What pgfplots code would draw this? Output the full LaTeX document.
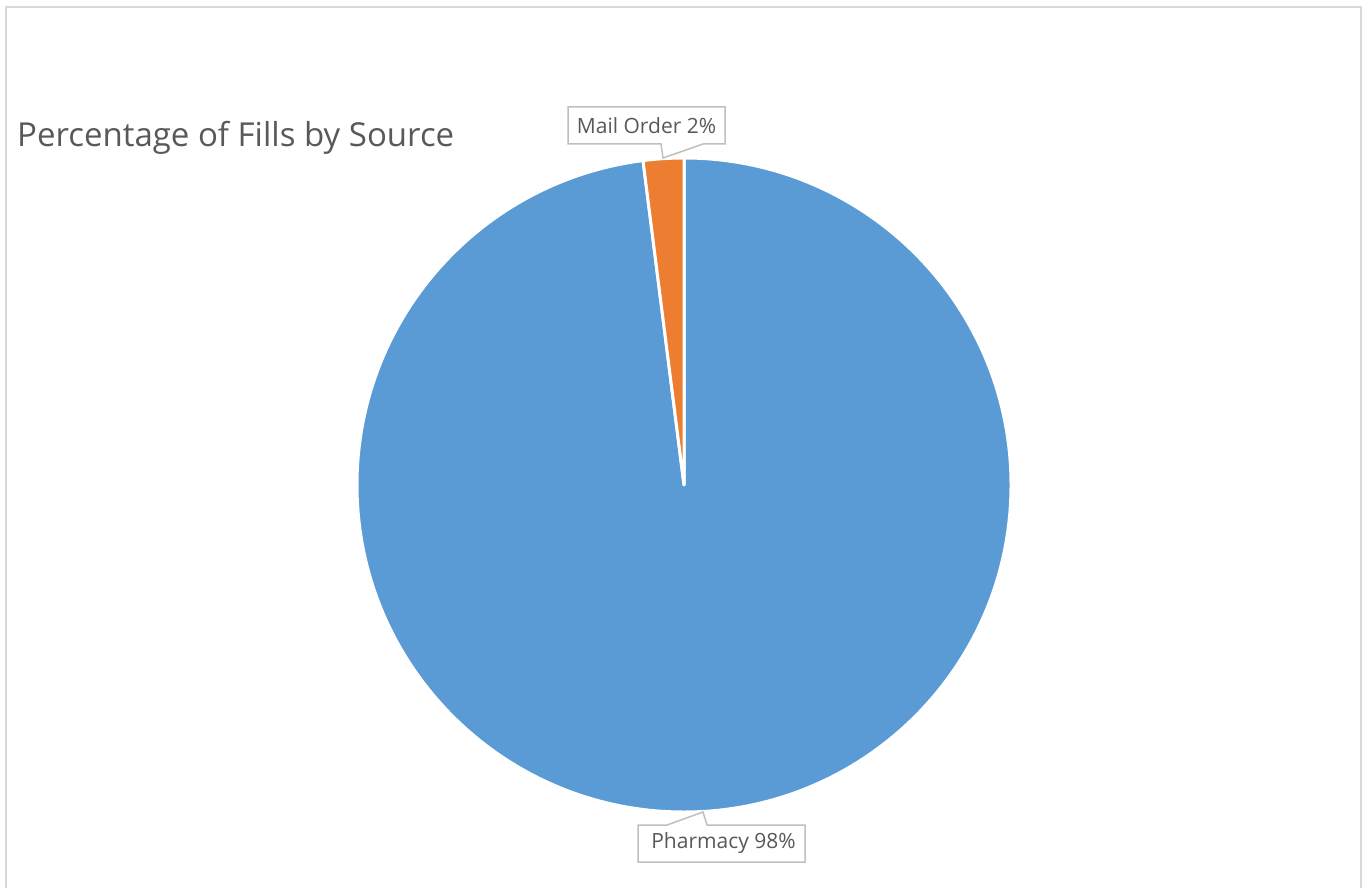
\documentclass[border=0pt]{standalone}
\usepackage{pgfplots}
\pgfplotsset{compat=1.18}
\usepackage{pgfplotstable}
\usepackage{fontspec}
\setmainfont{Open Sans}
\definecolor{pblue}{HTML}{5B9BD5}
\definecolor{porange}{HTML}{ED7D31}
\definecolor{tgray}{HTML}{595959}
\definecolor{bgray}{HTML}{BFBFBF}
\definecolor{fgray}{HTML}{D9D9D9}

\pgfplotstableread{
source value
Pharmacy 98
MailOrder 2
}\piedata

\begin{document}
\begin{tikzpicture}
\pgfplotstablegetelem{0}{value}\of\piedata \let\vA\pgfplotsretval
\pgfplotstablegetelem{1}{value}\of\piedata \let\vB\pgfplotsretval
\pgfmathsetmacro{\aA}{\vA/(\vA+\vB)*360}
\pgfmathsetmacro{\endA}{90-\aA}
\begin{axis}[
  width=1369bp, height=888bp, scale only axis,
  xmin=0, xmax=1369, ymin=0, ymax=888,
  hide axis, clip=false,
]
\fill[white] (axis cs:0,0) rectangle (axis cs:1369,888);
\draw[fgray, line width=2.5bp] (axis cs:6,0) -- (axis cs:6,881) -- (axis cs:1361,881) -- (axis cs:1361,0);
% pie slices from table values
\filldraw[fill=pblue, draw=white, line width=3bp, line join=round]
  (axis cs:684,403) -- ++(90:327bp) arc[start angle=90, end angle=\endA, radius=327bp] -- cycle;
\filldraw[fill=porange, draw=white, line width=3bp, line join=round]
  (axis cs:684,403) -- ++(\endA:327bp) arc[start angle=\endA, end angle=-270, radius=327bp] -- cycle;
% callouts
\filldraw[fill=white, draw=bgray, line width=1.5bp, line join=miter]
  (axis cs:568,744) -- (axis cs:661,744) -- (axis cs:663,730) -- (axis cs:703,744) -- (axis cs:725,744)
  -- (axis cs:725,781) -- (axis cs:568,781) -- cycle;
\node[text=tgray, font=\fontsize{21bp}{25bp}\selectfont, anchor=center, inner sep=0pt] at (axis cs:646.5,762.5) {Mail Order 2\%};
\filldraw[fill=white, draw=bgray, line width=1.5bp, line join=miter]
  (axis cs:638,63) -- (axis cs:667,63) -- (axis cs:703,76) -- (axis cs:707,63) -- (axis cs:805,63)
  -- (axis cs:805,26) -- (axis cs:638,26) -- cycle;
\node[text=tgray, font=\fontsize{21bp}{25bp}\selectfont, anchor=center, inner sep=0pt] at (axis cs:723.5,44.5) {Pharmacy 98\%};
% title
\node[text=tgray, font=\fontsize{33bp}{40bp}\selectfont, anchor=base west, inner sep=0pt] at (axis cs:17,741) {Percentage of Fills by Source};
\end{axis}
\end{tikzpicture}
\end{document}
